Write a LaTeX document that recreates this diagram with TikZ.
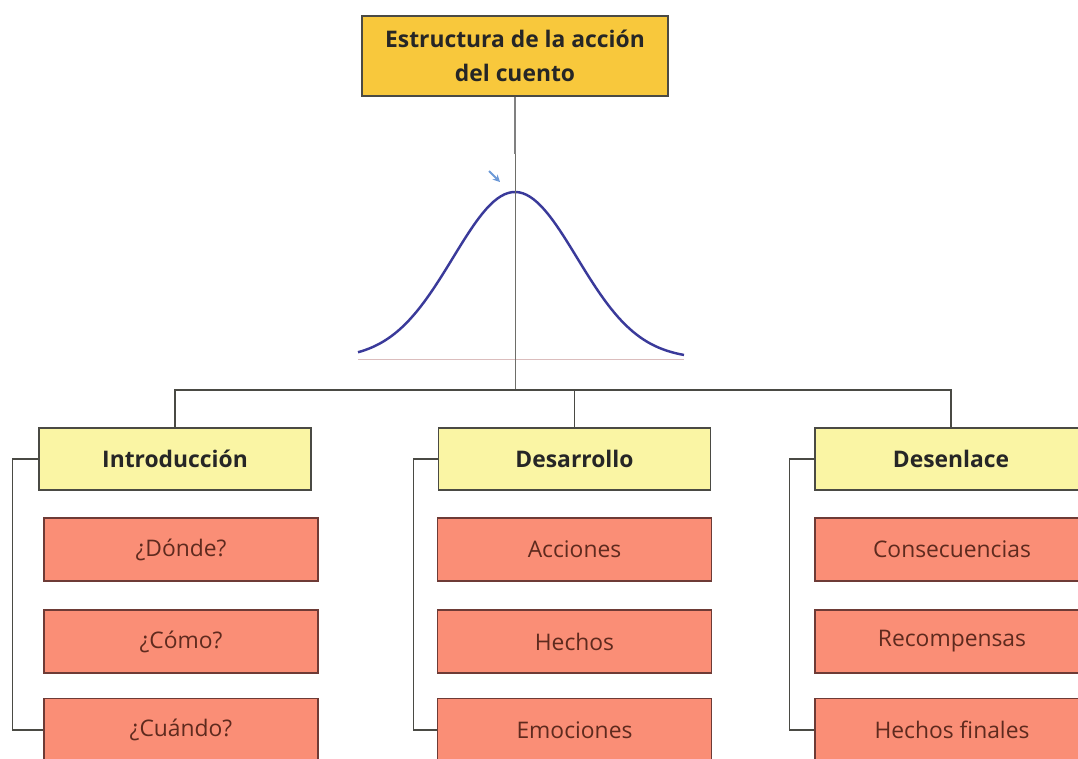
\documentclass[tikz,border=0pt]{standalone}
\usepackage{fontspec}
\setmainfont{Open Sans}
\usetikzlibrary{arrows.meta}

\definecolor{gold}{HTML}{F8C83C}
\definecolor{paleyellow}{HTML}{FAF5A4}
\definecolor{salmon}{HTML}{FA8E76}
\definecolor{edge}{HTML}{4A4A44}
\definecolor{redtext}{HTML}{5E2A1E}
\definecolor{curveblue}{HTML}{3A3A9A}

\begin{document}
\begin{tikzpicture}[x=0.02cm, y=-0.02cm,
   title/.style = {draw=edge, thick, fill=gold, minimum width=6.12cm, minimum height=1.6cm,
                   align=center, font=\fontsize{13}{19}\selectfont\bfseries, text=black!85},
   head/.style  = {draw=edge, thick, fill=paleyellow, minimum width=5.44cm, minimum height=1.24cm,
                   font=\fontsize{13}{16}\selectfont\bfseries, text=black!85},
   item/.style  = {draw=edge!80!red, thick, fill=salmon, minimum width=5.48cm, minimum height=1.26cm,
                   font=\fontsize{13}{16}\selectfont, text=redtext},
   link/.style  = {draw=edge, semithick}]
\useasboundingbox (0,0) rectangle (1078,758);
\clip (0,0) rectangle (1078,758);

\node[title] (accion) at (515,56) {Estructura de la acción\\del cuento};

% curva de la accion
\draw[red!30!gray!40, thin] (358,359) -- (684,359);
\draw[curveblue, line width=1.4pt] plot[domain=358:684, samples=90] (\x, {359-167*exp(-((\x-515)/62)^2/2)});
\draw[cyan!50!blue!60, -{Stealth[length=4pt, width=4pt]}, line width=1.2pt] (489,171) -- (500,182);

\coordinate (axis) at (515,154);
\coordinate (hub) at (515,390);
\draw[gray, line width=1.1pt] (accion.south) -- (axis);
\draw[edge!80, thin] (axis) -- (hub);

% las tres partes
\node[head] (intro) at (175,459) {Introducción};
\node[head] (desarrollo) at (574.5,459) {Desarrollo};
\node[head] (desenlace) at (951,459) {Desenlace};

\foreach \part in {intro, desarrollo, desenlace}
   \draw[link] (hub) -| (\part.north);

\node[item] (donde)  at (181,549.5) {¿Dónde?};
\node[item] (como)   at (181,641.5) {¿Cómo?};
\node[item] (cuando) at (181,730)   {¿Cuándo?};

\node[item] (acciones)  at (574.5,549.5) {Acciones};
\node[item] (hechos)    at (574.5,641.5) {Hechos};
\node[item] (emociones) at (574.5,730)   {Emociones};

\node[item] (consecuencias) at (952,549.5) {Consecuencias};
\node[item] (recompensas)   at (952,641.5) {Recompensas};
\node[item] (finales)       at (952,730)   {Hechos finales};

\draw[link] (intro.west) -- ++(-26,0) |- (cuando.west);
\draw[link] (desarrollo.west) -- ++(-24,0) |- (emociones.west);
\draw[link] (desenlace.west) -- ++(-25,0) |- (finales.west);
\end{tikzpicture}
\end{document}
